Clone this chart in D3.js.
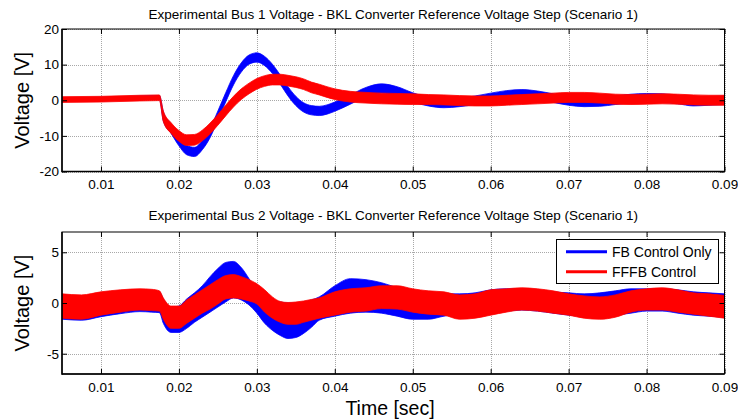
<!DOCTYPE html>
<html><head><meta charset="utf-8">
<script src="https://cdn.jsdelivr.net/npm/d3@7"></script>
<style>body{margin:0;background:#fff} text{font-family:Arial,"Liberation Sans",sans-serif;fill:#000}</style>
</head><body><svg id="c" width="738" height="419"></svg>
<script>
// ---------- data ----------
const titles = [
  "Experimental Bus 1 Voltage - BKL Converter Reference Voltage Step (Scenario 1)",
  "Experimental Bus 2 Voltage - BKL Converter Reference Voltage Step (Scenario 1)"
];
const seriesNames = ["FB Control Only", "FFFB Control"];
const xTicks = [0.01, 0.02, 0.03, 0.04, 0.05, 0.06, 0.07, 0.08, 0.09];
const xTickLabels = ["0.01", "0.02", "0.03", "0.04", "0.05", "0.06", "0.07", "0.08", "0.09"];
const xDomain = [0.005, 0.09];
const bus1YTicks = [-20, -10, 0, 10, 20];
const bus1YTickLabels = ["-20", "-10", "0", "10", "20"];
const bus1YDomain = [-20, 20];
const bus2YTicks = [-5, 0, 5];
const bus2YTickLabels = ["-5", "0", "5"];
const bus2YDomain = [-7, 7];

// Bus 1: band centre and ripple half-width (V)
const bus1Time = [0.005,0.010,0.015,0.0175,0.018,0.019,0.020,0.021,0.022,0.023,0.024,0.025,0.026,0.027,0.028,0.029,0.030,0.031,0.032,0.033,0.034,0.035,0.036,0.037,0.038,0.039,0.040,0.042,0.044,0.046,0.048,0.050,0.052,0.054,0.056,0.058,0.060,0.062,0.064,0.066,0.068,0.070,0.072,0.074,0.076,0.078,0.080,0.082,0.084,0.086,0.088,0.090];
const bus1FB = [0.2,0.3,0.7,0.8,-4.5,-8.0,-11.5,-14.0,-14.5,-12.6,-9.2,-4.3,0.8,5.6,9.2,11.4,12.0,11.0,8.8,5.8,2.5,-0.2,-2.0,-2.8,-3.0,-2.6,-1.8,0.2,2.3,3.3,2.5,0.8,-0.4,-0.9,-0.6,0.0,0.8,1.5,1.8,1.4,0.6,-0.2,-0.6,-0.5,0.0,0.5,0.7,0.6,0.2,-0.4,-0.2,0.0];
const bus1FBRipple = [0.5,0.5,0.5,0.5,1.3,1.3,1.3,1.3,1.3,1.3,1.3,1.3,1.3,1.3,1.3,1.3,1.3,1.3,1.3,1.3,1.3,1.3,1.3,1.3,1.3,1.3,1.3,1.3,1.3,1.3,1.3,1.3,1.2,1.2,1.2,1.2,1.2,1.2,1.2,1.2,1.2,1.2,1.2,1.2,1.2,1.2,1.2,1.2,1.2,1.2,1.2,1.2];
const bus1FFFB = [0.2,0.3,0.6,0.7,-4.5,-7.8,-10.0,-11.2,-11.1,-9.9,-7.9,-5.5,-2.9,-0.4,1.7,3.3,4.6,5.4,5.8,5.8,5.5,5.1,4.5,3.6,3.0,2.3,1.7,1.0,0.7,0.5,0.4,0.3,0.2,0.1,-0.1,-0.2,-0.2,0.0,0.2,0.4,0.6,0.8,0.8,0.6,0.3,0.2,0.3,0.4,0.3,0.1,0.0,0.0];
const bus1FFFBRipple = [0.8,0.8,0.8,0.8,1.5,1.5,1.5,1.5,1.5,1.5,1.5,1.5,1.5,1.5,1.5,1.5,1.5,1.5,1.5,1.5,1.5,1.5,1.5,1.5,1.5,1.5,1.5,1.5,1.5,1.5,1.5,1.5,1.4,1.4,1.4,1.4,1.4,1.4,1.4,1.4,1.4,1.4,1.4,1.4,1.4,1.4,1.4,1.4,1.4,1.4,1.4,1.4];

// Bus 2: upper and lower envelopes of the ripple band (V)
const bus2Time = [0.005,0.0075,0.010,0.0125,0.015,0.0165,0.0175,0.018,0.019,0.020,0.021,0.022,0.023,0.024,0.025,0.026,0.027,0.028,0.029,0.030,0.031,0.032,0.033,0.034,0.035,0.036,0.037,0.038,0.040,0.042,0.044,0.046,0.048,0.050,0.052,0.054,0.056,0.058,0.060,0.062,0.064,0.066,0.068,0.070,0.072,0.074,0.076,0.078,0.080,0.082,0.084,0.086,0.088,0.090];
const bus2FBUpper = [0.8,0.7,1.0,1.2,1.3,1.25,1.1, 0.4,-0.4,-0.3,0.4,1.0,1.7,2.6,3.4,4.0,4.1,3.5,2.4,1.2,0.5,0.2,0.1,0.0,0.0,0.1,0.3,0.6, 1.7,2.4,2.3,2.0,1.5,1.0,0.9,0.9,0.9,1.0,1.3,1.4,1.4,1.3,1.1,1.0,0.9,1.0,1.2,1.4,1.4,1.4,1.3,1.1,1.0,0.9];
const bus2FBLower = [-1.6,-1.7,-1.35,-1.05,-0.85,-0.9,-0.95, -2.0,-2.9,-2.9,-2.5,-1.9,-1.4,-0.9,-0.4,0.1,0.5,0.3,-0.2,-1.0,-2.0,-2.7,-3.2,-3.5,-3.4,-3.0,-2.4,-1.7, -1.3,-1.0,-0.9,-1.0,-1.3,-1.6,-1.6,-1.3,-1.1,-1.1,-1.0,-0.8,-0.7,-0.8,-1.0,-1.2,-1.3,-1.3,-1.2,-1.0,-0.8,-0.8,-1.0,-1.2,-1.3,-1.4];
const bus2FFFBUpper = [0.9,0.8,1.1,1.3,1.4,1.35,1.2, 0.5,-0.3,-0.3,0.3,0.8,1.3,1.8,2.3,2.7,2.8,2.6,2.3,1.9,1.3,0.6,0.15,0.05,0.1,0.2,0.35,0.5, 1.1,1.4,1.5,1.7,1.7,1.4,1.2,1.1,0.8,0.9,1.3,1.4,1.5,1.4,1.2,0.9,0.7,0.6,0.8,1.2,1.4,1.5,1.3,1.0,0.9,0.75];
const bus2FFFBLower = [-1.5,-1.6,-1.2,-0.9,-0.7,-0.75,-0.8, -1.6,-2.5,-2.5,-2.0,-1.5,-1.0,-0.6,-0.1,0.4,0.5,0.4,0.2,-0.1,-0.9,-1.5,-1.9,-2.1,-2.1,-1.9,-1.7,-1.5, -1.2,-0.9,-0.8,-0.55,-0.6,-0.9,-1.1,-1.2,-1.6,-1.5,-1.2,-0.9,-0.7,-0.8,-1.0,-1.2,-1.5,-1.6,-1.4,-0.9,-0.7,-0.7,-0.9,-1.1,-1.3,-1.5];

const colors = ["#0000ff", "#ff0000"];

// ---------- build ----------
const svg = d3.select("#c");
const L = 62, R = 724.5;
const FONT = 13.5;

const bus1Bands = [
  bus1Time.map((t, i) => ({t, lo: bus1FB[i] - bus1FBRipple[i], hi: bus1FB[i] + bus1FBRipple[i]})),
  bus1Time.map((t, i) => ({t, lo: bus1FFFB[i] - bus1FFFBRipple[i], hi: bus1FFFB[i] + bus1FFFBRipple[i]}))
];
const bus2Bands = [
  bus2Time.map((t, i) => ({t, lo: bus2FBLower[i], hi: bus2FBUpper[i]})),
  bus2Time.map((t, i) => ({t, lo: bus2FFFBLower[i], hi: bus2FFFBUpper[i]}))
];

const panels = [
  {top: 29, bottom: 171.5, title: titles[0], titleY: 19, yDomain: bus1YDomain, yTicks: bus1YTicks, yLabels: bus1YTickLabels, bands: bus1Bands, xPad: 8},
  {top: 232, bottom: 374, title: titles[1], titleY: 220, yDomain: bus2YDomain, yTicks: bus2YTicks, yLabels: bus2YTickLabels, bands: bus2Bands, xPad: 8.5}
];

panels.forEach((p, pi) => {
  const x = d3.scaleLinear().domain(xDomain).range([L, R]);
  const y = d3.scaleLinear().domain(p.yDomain).range([p.bottom, p.top]);
  const g = svg.append("g");
  const H = p.bottom - p.top, W = R - L;

  g.append("rect").attr("x", L).attr("y", p.top).attr("width", W).attr("height", H).attr("fill", "#fff");

  // grid
  const grid = g.append("g").attr("stroke", "#a8a8a8").attr("stroke-width", 1).attr("stroke-dasharray", "1,1");
  grid.selectAll("line.v").data(xTicks).join("line").attr("class", "v")
    .attr("x1", d => Math.round(x(d)) + 0.5).attr("x2", d => Math.round(x(d)) + 0.5)
    .attr("y1", p.top).attr("y2", p.bottom);
  grid.selectAll("line.h").data(p.yTicks).join("line").attr("class", "h")
    .attr("x1", L).attr("x2", R)
    .attr("y1", d => Math.round(y(d)) + 0.5).attr("y2", d => Math.round(y(d)) + 0.5);

  const cid = "clip" + pi;
  svg.append("clipPath").attr("id", cid).append("rect").attr("x", L).attr("y", p.top).attr("width", W).attr("height", H);

  const area = d3.area().x(d => x(d.t)).y0(d => y(d.lo)).y1(d => y(d.hi)).curve(d3.curveMonotoneX);
  const dg = g.append("g").attr("clip-path", `url(#${cid})`);
  p.bands.forEach((b, si) => {
    dg.append("path").datum(b).attr("d", area).attr("fill", colors[si])
      .attr("stroke", colors[si]).attr("stroke-width", 0.8);
  });

  // axes with inward ticks
  const axB = d3.axisBottom(x).tickValues(xTicks).tickFormat((d, i) => xTickLabels[i]).tickSizeInner(-5).tickSizeOuter(0).tickPadding(p.xPad);
  const axT = d3.axisTop(x).tickValues(xTicks).tickFormat("").tickSizeInner(-5).tickSizeOuter(0);
  const axLft = d3.axisLeft(y).tickValues(p.yTicks).tickFormat((d, i) => p.yLabels[i]).tickSizeInner(-5).tickSizeOuter(0).tickPadding(3);
  const axRt = d3.axisRight(y).tickValues(p.yTicks).tickFormat("").tickSizeInner(-5).tickSizeOuter(0);

  const styleAxis = sel => {
    sel.selectAll(".domain").remove();
    sel.selectAll("line").attr("stroke", "#000");
    sel.selectAll("text").attr("font-size", FONT).attr("font-family", "Arial, 'Liberation Sans', sans-serif");
  };
  g.append("g").attr("transform", `translate(0,${p.bottom})`).call(axB).call(styleAxis);
  g.append("g").attr("transform", `translate(0,${p.top})`).call(axT).call(styleAxis);
  g.append("g").attr("transform", `translate(${L},0)`).call(axLft).call(styleAxis);
  g.append("g").attr("transform", `translate(${R},0)`).call(axRt).call(styleAxis);

  // box
  g.append("rect").attr("x", L).attr("y", p.top).attr("width", W).attr("height", H)
    .attr("fill", "none").attr("stroke", "#000").attr("stroke-width", 1);
  g.append("line").attr("x1", L).attr("x2", L).attr("y1", p.top).attr("y2", p.bottom + 0.75).attr("stroke", "#000").attr("stroke-width", 1.5);
  g.append("line").attr("x1", L).attr("x2", R).attr("y1", p.bottom).attr("y2", p.bottom).attr("stroke", "#000").attr("stroke-width", 1.5);

  // title
  g.append("text").attr("x", (L + R) / 2).attr("y", p.titleY).attr("text-anchor", "middle")
    .attr("font-size", FONT).text(p.title);

  // y label
  g.append("text").attr("transform", `translate(29,${(p.top + p.bottom) / 2}) rotate(-90)`)
    .attr("text-anchor", "middle").attr("font-size", 20).text("Voltage [V]");
});

// x label
svg.append("text").attr("x", 390).attr("y", 414.5).attr("text-anchor", "middle").attr("font-size", 19.5).text("Time [sec]");

// legend
const lg = svg.append("g");
lg.append("rect").attr("x", 556.5).attr("y", 239.5).attr("width", 162).attr("height", 44)
  .attr("fill", "#fff").attr("stroke", "#000").attr("stroke-width", 1);
seriesNames.forEach((name, i) => {
  const yy = 251.7 + i * 20;
  lg.append("line").attr("x1", 566).attr("x2", 607).attr("y1", yy).attr("y2", yy)
    .attr("stroke", colors[i]).attr("stroke-width", 3);
  lg.append("text").attr("x", 612).attr("y", yy + 5).attr("font-size", 14).text(name);
});
</script></body></html>
